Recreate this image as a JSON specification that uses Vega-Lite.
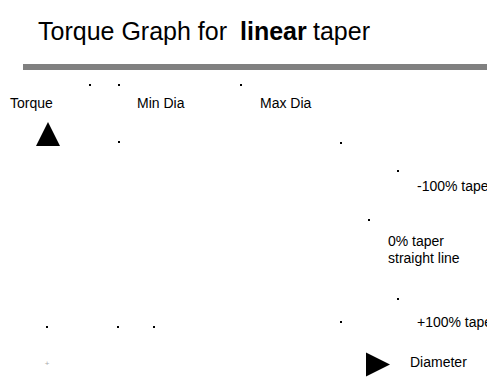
{
  "$schema": "https://vega.github.io/schema/vega-lite/v6.json",
  "width": 487,
  "height": 377,
  "autosize": {"type": "none"},
  "padding": 0,
  "background": "white",
  "config": {"view": {"stroke": null}},
  "encoding": {
    "x": {"field": "x", "type": "quantitative", "scale": {"domain": [0, 487], "nice": false, "zero": false}, "axis": null},
    "y": {"field": "y", "type": "quantitative", "scale": {"domain": [0, 377], "nice": false, "zero": false, "reverse": true}, "axis": null}
  },
  "layer": [
    {
      "data": {"values": [{"x": 23, "x2": 487, "y": 64, "y2": 70}]},
      "mark": {"type": "rect", "color": "#808080"},
      "encoding": {"x2": {"field": "x2"}, "y2": {"field": "y2"}}
    },
    {
      "data": {"values": [{"x": 38, "y": 40, "text": "Torque Graph for"}, {"x": 313, "y": 40, "text": "taper"}]},
      "mark": {"type": "text", "align": "left", "baseline": "alphabetic", "font": "Liberation Sans", "fontSize": 25, "color": "black"},
      "encoding": {"text": {"field": "text"}}
    },
    {
      "data": {"values": [{"x": 240, "y": 40, "text": "linear"}]},
      "mark": {"type": "text", "align": "left", "baseline": "alphabetic", "font": "Liberation Sans", "fontSize": 25, "fontWeight": "bold", "color": "black"},
      "encoding": {"text": {"field": "text"}}
    },
    {
      "data": {"values": [
        {"x": 10, "y": 108, "text": "Torque"},
        {"x": 137, "y": 108, "text": "Min Dia"},
        {"x": 260, "y": 108, "text": "Max Dia"},
        {"x": 417, "y": 191, "text": "-100% taper"},
        {"x": 388, "y": 246, "text": "0% taper"},
        {"x": 388, "y": 263, "text": "straight line"},
        {"x": 417, "y": 327, "text": "+100% taper"},
        {"x": 410, "y": 367, "text": "Diameter"}
      ]},
      "mark": {"type": "text", "align": "left", "baseline": "alphabetic", "font": "Liberation Sans", "fontSize": 14, "color": "black"},
      "encoding": {"text": {"field": "text"}}
    },
    {
      "data": {"values": [
        {"x": 90, "y": 85}, {"x": 119, "y": 85}, {"x": 241, "y": 85},
        {"x": 119, "y": 142}, {"x": 341, "y": 143},
        {"x": 398, "y": 171}, {"x": 369, "y": 220}, {"x": 398, "y": 299},
        {"x": 341, "y": 322}, {"x": 47, "y": 327}, {"x": 118, "y": 327}, {"x": 154, "y": 327}
      ]},
      "mark": {"type": "square", "size": 4, "color": "black", "opacity": 1}
    },
    {
      "data": {"values": [{"x": 48, "y": 134}]},
      "mark": {"type": "point", "shape": "M0,-1L1,1L-1,1Z", "size": 576, "filled": true, "color": "black", "opacity": 1, "strokeWidth": 0}
    },
    {
      "data": {"values": [{"x": 378, "y": 364.5}]},
      "mark": {"type": "point", "shape": "M-1,-1L1,0L-1,1Z", "size": 576, "filled": true, "color": "black", "opacity": 1, "strokeWidth": 0}
    },
    {
      "data": {"values": [{"x": 47, "y": 364, "text": "+"}]},
      "mark": {"type": "text", "align": "center", "baseline": "middle", "font": "Liberation Sans", "fontSize": 8, "color": "#aaaaaa"},
      "encoding": {"text": {"field": "text"}}
    }
  ]
}
